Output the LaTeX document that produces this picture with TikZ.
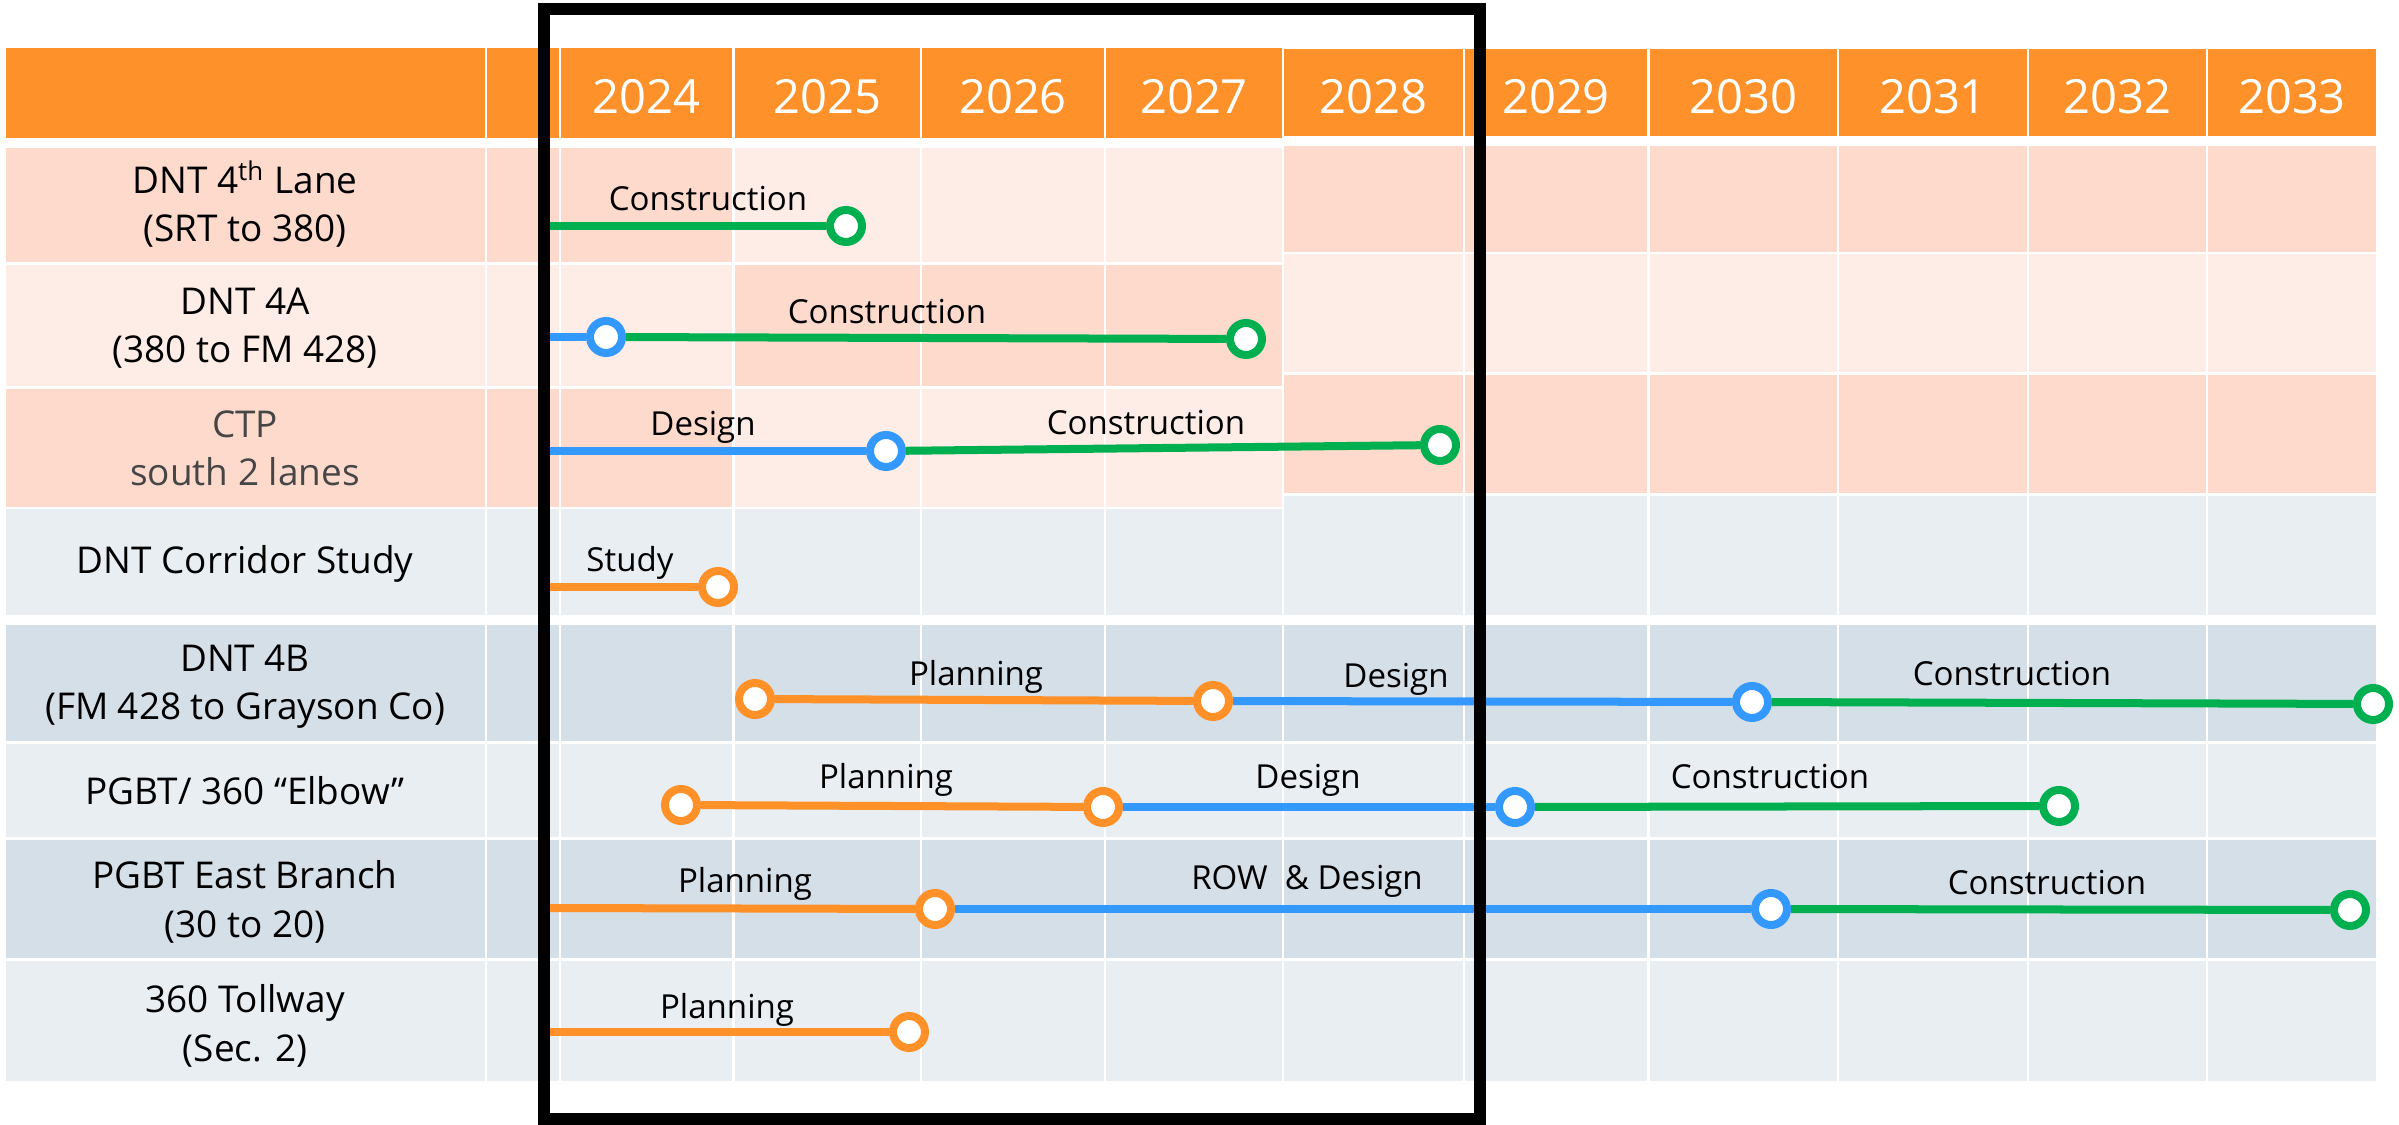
\documentclass[tikz,border=0pt]{standalone}
\usepackage{fontspec}
\setmainfont{Open Sans}
\usetikzlibrary{calc}
\definecolor{hdr}{RGB}{254,145,41}
\definecolor{peachA}{RGB}{253,218,204}
\definecolor{peachB}{RGB}{254,237,230}
\definecolor{greyA}{RGB}{233,238,242}
\definecolor{greyB}{RGB}{213,223,232}
\definecolor{plan}{RGB}{255,145,40}
\definecolor{design}{RGB}{51,153,255}
\definecolor{build}{RGB}{0,176,80}
\definecolor{subgrey}{RGB}{70,70,70}
\tikzset{
  cell/.style={draw=white,line width=0.025cm},
  ms/.style={circle,draw=#1,fill=white,line width=0.08cm,minimum size=0.32cm,inner sep=0pt},
  bar/.style={draw=#1,line width=0.08cm},
  phase/.style={anchor=base,font=\fontsize{9.4}{11}\selectfont},
  prj/.style={anchor=base,font=\fontsize{10.5}{12.6}\selectfont},
  year/.style={anchor=base,text=white,font=\fontsize{13.4}{16}\selectfont}
}

\begin{document}
\begin{tikzpicture}[x=0.01cm,y=-0.01cm]
\useasboundingbox (0,0) rectangle (2399,1125);
\foreach \a/\e in {5/486,486/560,560/733.5,733.5/921,921/1105,1105/1283}
  \path[cell,fill=hdr] (\a,47) rectangle (\e,139);
\foreach \a/\e in {1283/1464,1464/1648.5,1648.5/1838,1838/2028,2028/2207,2207/2377}
  \path[cell,fill=hdr] (\a,48) rectangle (\e,137);
\foreach \y/\x in {2024/646.5,2025/827.5,2026/1013,2027/1194,2028/1373.5,2029/1556,2030/1743.5,2031/1933,2032/2117.5,2033/2292}
  \node (y\y) at (\x,114) [year] {\y};
\foreach \t/\b/\c/\d in {147/263.5/peachA/peachB,263.5/387.5/peachB/peachA,387.5/508/peachA/peachB} {
  \foreach \a/\e in {5/486,486/560,560/733.5}
    \path[cell,fill=\c] (\a,\t) rectangle (\e,\b);
  \foreach \a/\e in {733.5/921,921/1105,1105/1283}
    \path[cell,fill=\d] (\a,\t) rectangle (\e,\b);
}
\foreach \t/\b/\c in {145/253/peachA,253/373.5/peachB,373.5/494.5/peachA,494.5/616/greyA}
  \foreach \a/\e in {1283/1464,1464/1648.5,1648.5/1838,1838/2028,2028/2207,2207/2377}
    \path[cell,fill=\c] (\a,\t) rectangle (\e,\b);
\foreach \a/\e in {5/486,486/560,560/733.5,733.5/921,921/1105,1105/1283}
  \path[cell,fill=greyA] (\a,508) rectangle (\e,616);
\foreach \t/\b/\c in {624/742.5/greyB,742.5/838.5/greyA,838.5/959.5/greyB,959.5/1082/greyA}
  \foreach \a/\e in {5/486,486/560,560/733.5,733.5/921,921/1105,1105/1283,1283/1464,1464/1648.5,1648.5/1838,1838/2028,2028/2207,2207/2377}
    \path[cell,fill=\c] (\a,\t) rectangle (\e,\b);

\node (p1) at (245,194) [prj] {DNT 4\textsuperscript{th} Lane};
\node (p1s) at ($(p1.base)+(0,48)$) [prj] {(SRT to 380)};
\node (p2) at (245,315) [prj] {DNT 4A};
\node (p2s) at ($(p2.base)+(0,48)$) [prj] {(380 to FM 428)};
\node (p3) at (245,438) [prj,text=subgrey] {CTP};
\node (p3s) at ($(p3.base)+(0,48)$) [prj,text=subgrey] {south 2 lanes};
\node (p4) at (245,574) [prj] {DNT Corridor Study};
\node (p5) at (245,672) [prj] {DNT 4B};
\node (p5s) at ($(p5.base)+(0,48)$) [prj] {(FM 428 to Grayson Co)};
\node (p6) at (245,805) [prj] {PGBT/ 360 “Elbow”};
\node (p7) at (245,889) [prj] {PGBT East Branch};
\node (p7s) at ($(p7.base)+(0,49)$) [prj] {(30 to 20)};
\node (p8) at (245,1012) [prj] {360 Tollway};
\node (p8s) at ($(p8.base)+(0,50)$) [prj] {(Sec. 2)};

\coordinate (s1) at (545,226);
\node (m1) at (846,226) [ms=build] {};
\draw[bar=build] (s1) -- (m1);
\coordinate (s2) at (545,337);
\node (m2a) at (606,337) [ms=design] {};
\node (m2b) at (1246,339) [ms=build] {};
\draw[bar=design] (s2) -- (m2a);
\draw[bar=build] (m2a) -- (m2b);
\coordinate (s3) at (545,451);
\node (m3a) at (886,451) [ms=design] {};
\node (m3b) at (1440,445) [ms=build] {};
\draw[bar=design] (s3) -- (m3a);
\draw[bar=build] (m3a) -- (m3b);
\coordinate (s4) at (545,587);
\node (m4) at (718,587) [ms=plan] {};
\draw[bar=plan] (s4) -- (m4);
\node (m5a) at (755,699) [ms=plan] {};
\node (m5b) at (1213,701) [ms=plan] {};
\node (m5c) at (1752,702) [ms=design] {};
\node (m5d) at (2373,704) [ms=build] {};
\draw[bar=plan] (m5a) -- (m5b);
\draw[bar=design] (m5b) -- (m5c);
\draw[bar=build] (m5c) -- (m5d);
\node (m6a) at (681,805) [ms=plan] {};
\node (m6b) at (1103,807) [ms=plan] {};
\node (m6c) at (1515,807) [ms=design] {};
\node (m6d) at (2059,806) [ms=build] {};
\draw[bar=plan] (m6a) -- (m6b);
\draw[bar=design] (m6b) -- (m6c);
\draw[bar=build] (m6c) -- (m6d);
\coordinate (s7) at (545,908);
\node (m7a) at (935,909) [ms=plan] {};
\node (m7b) at (1771,909) [ms=design] {};
\node (m7c) at (2350,910) [ms=build] {};
\draw[bar=plan] (s7) -- (m7a);
\draw[bar=design] (m7a) -- (m7b);
\draw[bar=build] (m7b) -- (m7c);
\coordinate (s8) at (545,1032);
\node (m8) at (909,1032) [ms=plan] {};
\draw[bar=plan] (s8) -- (m8);

\node (t1) at (708,211) [phase] {Construction};
\node (t2) at (887,324) [phase] {Construction};
\node (t3a) at (703,436) [phase] {Design};
\node (t3b) at (1146,435) [phase] {Construction};
\node (t4) at (630,572) [phase] {Study};
\node (t5a) at (976,686) [phase] {Planning};
\node (t5b) at (1396,688) [phase] {Design};
\node (t5c) at (2012,686) [phase] {Construction};
\node (t6a) at (886,789) [phase] {Planning};
\node (t6b) at (1308,789) [phase] {Design};
\node (t6c) at (1770,789) [phase] {Construction};
\node (t7a) at (745,893) [phase] {Planning};
\node (t7b) at (1307,890) [phase] {ROW\ \ \& Design};
\node (t7c) at (2047,895) [phase] {Construction};
\node (t8) at (727,1018) [phase] {Planning};

\draw[line width=0.12cm] (544,9) rectangle (1480,1119);
\end{tikzpicture}
\end{document}
